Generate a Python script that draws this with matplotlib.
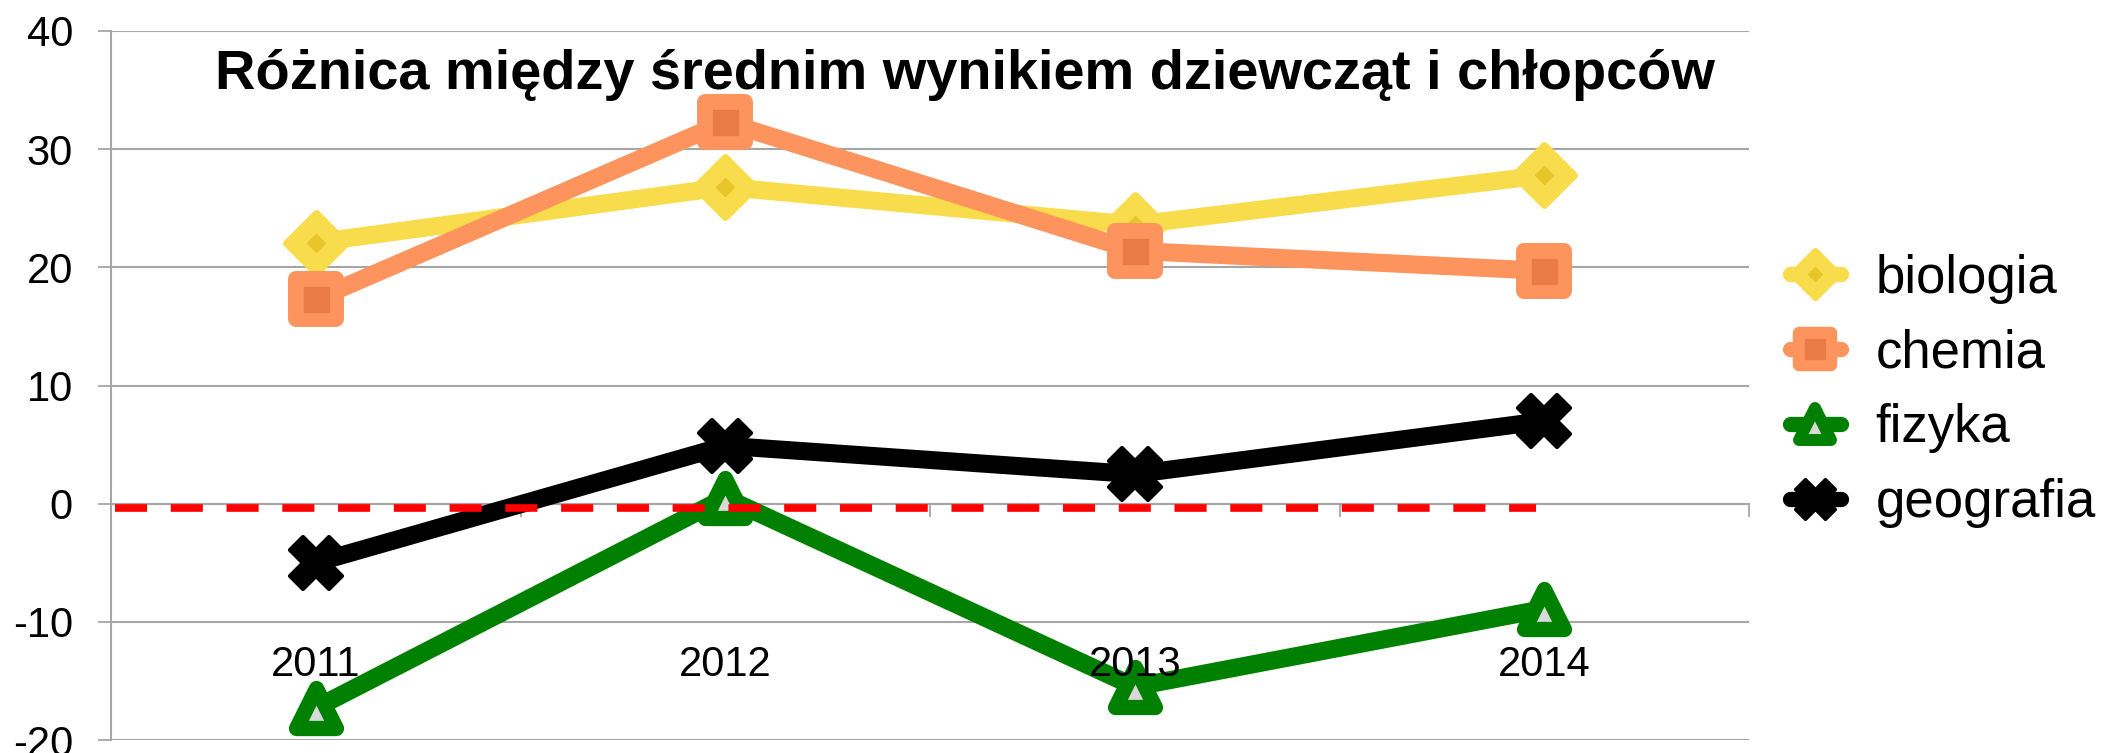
import matplotlib
matplotlib.use("Agg")
import matplotlib.pyplot as plt
from matplotlib.lines import Line2D
from matplotlib.markers import MarkerStyle

# dane
years = ["2011", "2012", "2013", "2014"]
biologia = [22.1, 26.8, 23.6, 27.8]
chemia = [17.3, 32.3, 21.4, 19.7]
fizyka = [-17.3, 0.5, -15.5, -8.9]
geografia = [-5.0, 4.9, 2.5, 7.0]
ref_level = -0.4   # czerwona linia przerywana
title = "Różnica między średnim wynikiem dziewcząt i chłopców"

plt.rcParams["font.family"] = ["Liberation Sans", "DejaVu Sans"]
plt.rcParams["axes.unicode_minus"] = False

grid_gray = "#a6a6a6"

# kolor, marker, rozmiar, grubosc krawedzi, wypelnienie, wewnetrzny marker
styles = {
    "biologia": dict(data=biologia, color="#f8dc4c", marker="D", ms=31, mew=5,
                     mfc="#f8dc4c", inner=("D", 9, "#e8c62a")),
    "chemia": dict(data=chemia, color="#fd945e", marker="s", ms=29.5, mew=11.5,
                   mfc="#fd945e", inner=("s", 18, "#e97b44")),
    "fizyka": dict(data=fizyka, color="#008000", marker="^", ms=29, mew=11,
                   mfc="#d9d9d9", inner=None),
    "geografia": dict(data=geografia, color="#000000", marker="X", ms=37, mew=3,
                      mfc="#000000", inner=None),
}

fig = plt.figure(figsize=(21.05, 7.53), dpi=100)
ax = fig.add_axes([111/2105, 13/753, 1638/2105, 709/753])

x = list(range(len(years)))
handles = []
for name, s in styles.items():
    mk = MarkerStyle(s["marker"], joinstyle="round")
    ax.plot(x, s["data"], color=s["color"], lw=13, solid_joinstyle="round",
            marker=mk, ms=s["ms"], mew=s["mew"], mfc=s["mfc"], mec=s["color"],
            clip_on=False, zorder=3)
    h = Line2D([], [], color=s["color"], lw=11, solid_capstyle="round",
               marker=mk, ms=s["ms"]*0.78, mew=s["mew"]*0.78,
               mfc=s["mfc"], mec=s["color"])
    if s["inner"]:
        m2, ms2, c2 = s["inner"]
        ax.plot(x, s["data"], ls="none", marker=m2, ms=ms2, color=c2,
                clip_on=False, zorder=3)
        h2 = Line2D([], [], ls="none", marker=m2, ms=ms2*0.78, color=c2)
        handles.append((h, h2))
    else:
        handles.append(h)

# czerwona linia
ax.plot([-0.49, 2.98], [ref_level, ref_level], color="#ff0000", lw=5.5,
        dashes=(4.2, 3.1), dash_capstyle="butt", zorder=5)

# osie
ax.set_xlim(-0.5, 3.5)
ax.set_ylim(-20, 40)
ax.set_yticks(range(-20, 41, 10))
ax.yaxis.grid(True, color=grid_gray, lw=1.5)
ax.set_axisbelow(True)
ax.set_xticks([-0.5, 0.5, 1.5, 2.5, 3.5])
ax.set_xticklabels([])
ax.tick_params(axis="x", length=9.4, width=1.3, color=grid_gray, direction="out")
ax.tick_params(axis="y", length=9.4, width=1.3, color=grid_gray, direction="out",
               labelsize=30, pad=18)
for sp in ["top", "right"]:
    ax.spines[sp].set_visible(False)
ax.spines["left"].set_color(grid_gray)
ax.spines["left"].set_linewidth(1.5)
ax.spines["bottom"].set_position(("data", 0))
ax.spines["bottom"].set_color(grid_gray)
ax.spines["bottom"].set_linewidth(1.5)

for i, yr in enumerate(years):
    ax.text(i, -14.6, yr, ha="center", va="baseline", fontsize=30, zorder=4)

fig.text(965/2105, 1 - 89/753, title, ha="center", va="baseline",
         fontsize=40.3, fontweight="bold")

fig.legend(handles, list(styles.keys()), loc="center left",
           bbox_to_anchor=(1790/2105, 1 - 391/753), frameon=False,
           fontsize=38, handlelength=0.96, handletextpad=0.66,
           labelspacing=0.47, borderpad=0, borderaxespad=0)

fig.savefig("out.png", dpi=100)
